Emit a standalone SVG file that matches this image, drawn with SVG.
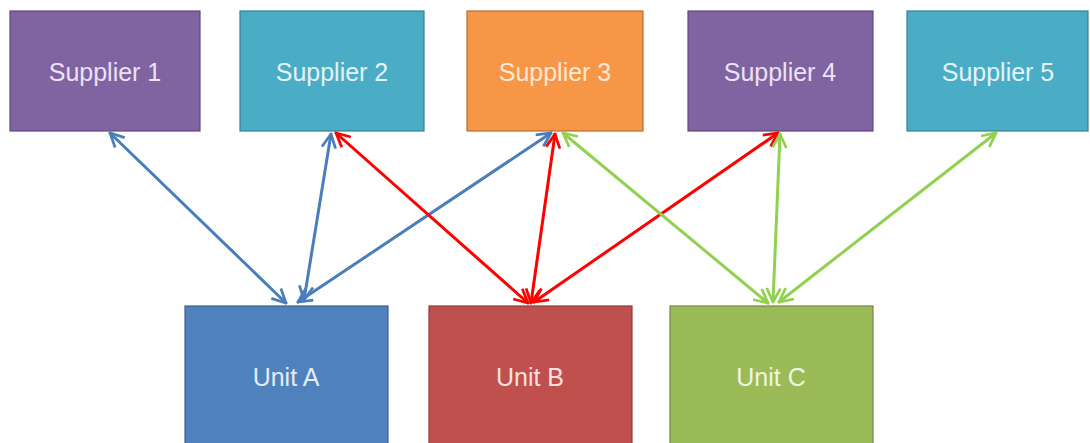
<svg xmlns="http://www.w3.org/2000/svg" width="1090" height="443" viewBox="0 0 1090 443">
  <style>
    .lbl { font-family: "Liberation Sans", Arial, sans-serif; font-size: 25px; text-anchor: middle; dominant-baseline: central; }
    .purple rect { fill: #8064A2; stroke: #5E4A78; stroke-width: 1.2; }
    .purple text { fill: #EBE2F5; }
    .teal rect { fill: #4BACC6; stroke: #377F93; stroke-width: 1.2; }
    .teal text { fill: #E2F4F9; }
    .orange rect { fill: #F79646; stroke: #B66E33; stroke-width: 1.2; }
    .orange text { fill: #FEE8D6; }
    .blue rect { fill: #4F81BD; stroke: #3A5F8C; stroke-width: 1.2; }
    .blue text { fill: #E3ECF7; }
    .red rect { fill: #C0504D; stroke: #8E3B39; stroke-width: 1.2; }
    .red text { fill: #F7E2E1; }
    .green rect { fill: #9BBB59; stroke: #728A42; stroke-width: 1.2; }
    .green text { fill: #EEF5E1; }
    .edge { fill: none; stroke-width: 3; stroke-linecap: round; }
    .eb { stroke: #4A7EBB; marker-start: url(#ab); marker-end: url(#ab); }
    .er { stroke: #FF0000; marker-start: url(#ar); marker-end: url(#ar); }
    .eg { stroke: #92D050; marker-start: url(#ag); marker-end: url(#ag); }
  </style>
  <defs>
    <!-- open V-shaped arrowheads, tip at the line end -->
    <marker id="ab" viewBox="0 0 12 12" refX="11" refY="6" markerWidth="5.5" markerHeight="5.5" orient="auto-start-reverse" markerUnits="strokeWidth">
      <path d="M1,1 L11,6 L1,11" fill="none" stroke="#4A7EBB" stroke-width="2" stroke-linejoin="miter"/>
    </marker>
    <marker id="ar" viewBox="0 0 12 12" refX="11" refY="6" markerWidth="5.5" markerHeight="5.5" orient="auto-start-reverse" markerUnits="strokeWidth">
      <path d="M1,1 L11,6 L1,11" fill="none" stroke="#FF0000" stroke-width="2" stroke-linejoin="miter"/>
    </marker>
    <marker id="ag" viewBox="0 0 12 12" refX="11" refY="6" markerWidth="5.5" markerHeight="5.5" orient="auto-start-reverse" markerUnits="strokeWidth">
      <path d="M1,1 L11,6 L1,11" fill="none" stroke="#92D050" stroke-width="2" stroke-linejoin="miter"/>
    </marker>
  </defs>

  <!-- suppliers -->
  <g id="supplier1" class="purple">
    <rect x="10" y="11" width="190" height="120"/>
    <text class="lbl" x="105" y="72">Supplier 1</text>
  </g>
  <g id="supplier2" class="teal">
    <rect x="240" y="11" width="184" height="120"/>
    <text class="lbl" x="332" y="72">Supplier 2</text>
  </g>
  <g id="supplier3" class="orange">
    <rect x="467" y="11" width="176" height="120"/>
    <text class="lbl" x="555" y="72">Supplier 3</text>
  </g>
  <g id="supplier4" class="purple">
    <rect x="688" y="11" width="185" height="120"/>
    <text class="lbl" x="780" y="72">Supplier 4</text>
  </g>
  <g id="supplier5" class="teal">
    <rect x="907" y="11" width="181" height="120"/>
    <text class="lbl" x="998" y="72">Supplier 5</text>
  </g>

  <!-- units -->
  <g id="unitA" class="blue">
    <rect x="185" y="306" width="203" height="140"/>
    <text class="lbl" x="286" y="377">Unit A</text>
  </g>
  <g id="unitB" class="red">
    <rect x="429" y="306" width="203" height="140"/>
    <text class="lbl" x="530" y="377">Unit B</text>
  </g>
  <g id="unitC" class="green">
    <rect x="670" y="306" width="203" height="140"/>
    <text class="lbl" x="771" y="377">Unit C</text>
  </g>

  <!-- two-way links between suppliers and units -->
  <g id="connectors">
    <line class="edge eb" x1="110" y1="133" x2="286" y2="303"/>
    <line class="edge eb" x1="331" y1="134" x2="304" y2="300"/>
    <line class="edge eb" x1="551" y1="133" x2="298" y2="302"/>

    <line class="edge er" x1="336" y1="133" x2="528" y2="303"/>
    <line class="edge er" x1="555" y1="134" x2="531" y2="303"/>
    <line class="edge er" x1="778" y1="133" x2="534" y2="302"/>

    <line class="edge eg" x1="563" y1="133" x2="768" y2="303"/>
    <line class="edge eg" x1="780" y1="134" x2="773" y2="302"/>
    <line class="edge eg" x1="996" y1="133" x2="779" y2="302"/>
  </g>
</svg>
